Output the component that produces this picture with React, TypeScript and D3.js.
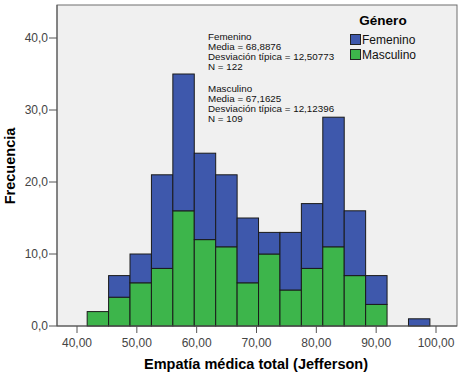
import React from "react";
import * as d3 from "d3";

const binStarts = [41.7, 45.28, 48.86, 52.44, 56.02, 59.6, 63.18, 66.76, 70.34, 73.92, 77.5, 81.08, 84.66, 88.24, 91.82, 95.4];
const binWidth = 3.58;
const femenino = [0, 3, 4, 13, 19, 12, 10, 9, 3, 8, 9, 18, 9, 4, 0, 1];
const masculino = [2, 4, 6, 8, 16, 12, 11, 6, 10, 5, 8, 11, 7, 3, 0, 0];
const xTicks = [40, 50, 60, 70, 80, 90, 100];
const yTicks = [0, 10, 20, 30, 40];
const seriesNames = ["Femenino", "Masculino"];
const statsFem = ["Femenino", "Media = 68,8876", "Desviación típica = 12,50773", "N = 122"];
const statsMas = ["Masculino", "Media = 67,1625", "Desviación típica = 12,12396", "N = 109"];

const BLUE = "#3E58AC";
const GREEN = "#3DB54B";
const FONT = "'Liberation Sans', Arial, sans-serif";

export default function App() {
  const W = 464, H = 378;
  const plot = { left: 57, right: 457, top: 5, bottom: 326 };
  const x = d3.scaleLinear().domain([40, 100]).range([77, 436]);
  const y = d3.scaleLinear().domain([0, 40]).range([326, 38]);
  const fmtY = (v: number) => d3.format(".1f")(v).replace(".", ",");
  const fmtX = (v: number) => d3.format(".2f")(v).replace(".", ",");

  return (
    <svg width={W} height={H} style={{ position: "absolute", left: 0, top: 0, background: "#fff" }} fontFamily={FONT}>
      <rect x={plot.left} y={plot.top} width={plot.right - plot.left} height={plot.bottom - plot.top} fill="#F0F0F0" stroke="#6E6E6E" strokeWidth={1} />
      {binStarts.map((b, i) => {
        const x0 = x(b), x1 = x(b + binWidth);
        const m = masculino[i], f = femenino[i];
        return (
          <g key={i}>
            {m > 0 && (
              <rect x={x0} y={y(m)} width={x1 - x0} height={y(0) - y(m)} fill={GREEN} stroke="#1a1a1a" strokeWidth={1} />
            )}
            {f > 0 && (
              <rect x={x0} y={y(m + f)} width={x1 - x0} height={y(m) - y(m + f)} fill={BLUE} stroke="#1a1a1a" strokeWidth={1} />
            )}
          </g>
        );
      })}
      {/* axes */}
      <line x1={plot.left} x2={plot.right} y1={plot.bottom} y2={plot.bottom} stroke="#555" />
      <line x1={plot.left} x2={plot.left} y1={plot.top} y2={plot.bottom} stroke="#555" />
      {yTicks.map((t) => (
        <g key={t}>
          <line x1={plot.left - 8} x2={plot.left} y1={y(t)} y2={y(t)} stroke="#555" />
          <text x={plot.left - 9} y={y(t) + 4} textAnchor="end" fontSize={12} fill="#444">{fmtY(t)}</text>
        </g>
      ))}
      {xTicks.map((t) => (
        <g key={t}>
          <line x1={x(t)} x2={x(t)} y1={plot.bottom} y2={plot.bottom + 7} stroke="#555" />
          <text x={x(t)} y={plot.bottom + 21} textAnchor="middle" fontSize={12} fill="#444">{fmtX(t)}</text>
        </g>
      ))}
      <text x={256} y={369} textAnchor="middle" fontSize={14.5} fontWeight="bold" fill="#000">Empatía médica total (Jefferson)</text>
      <text transform="translate(15,166) rotate(-90)" textAnchor="middle" fontSize={14.5} fontWeight="bold" fill="#000">Frecuencia</text>
      {/* stats annotations */}
      {statsFem.map((s, i) => (
        <text key={"f" + i} x={208} y={40 + i * 10} fontSize={9.8} fill="#111">{s}</text>
      ))}
      {statsMas.map((s, i) => (
        <text key={"m" + i} x={208} y={92 + i * 10} fontSize={9.8} fill="#111">{s}</text>
      ))}
      {/* legend */}
      <text x={383} y={25} textAnchor="middle" fontSize={13.5} fontWeight="bold" fill="#000">Género</text>
      {seriesNames.map((n, i) => (
        <g key={n}>
          <rect x={350.5} y={34.5 + i * 15} width={10} height={10} fill={i === 0 ? BLUE : GREEN} stroke="#222" />
          <text x={362} y={44 + i * 15} fontSize={12} fill="#111">{n}</text>
        </g>
      ))}
    </svg>
  );
}
